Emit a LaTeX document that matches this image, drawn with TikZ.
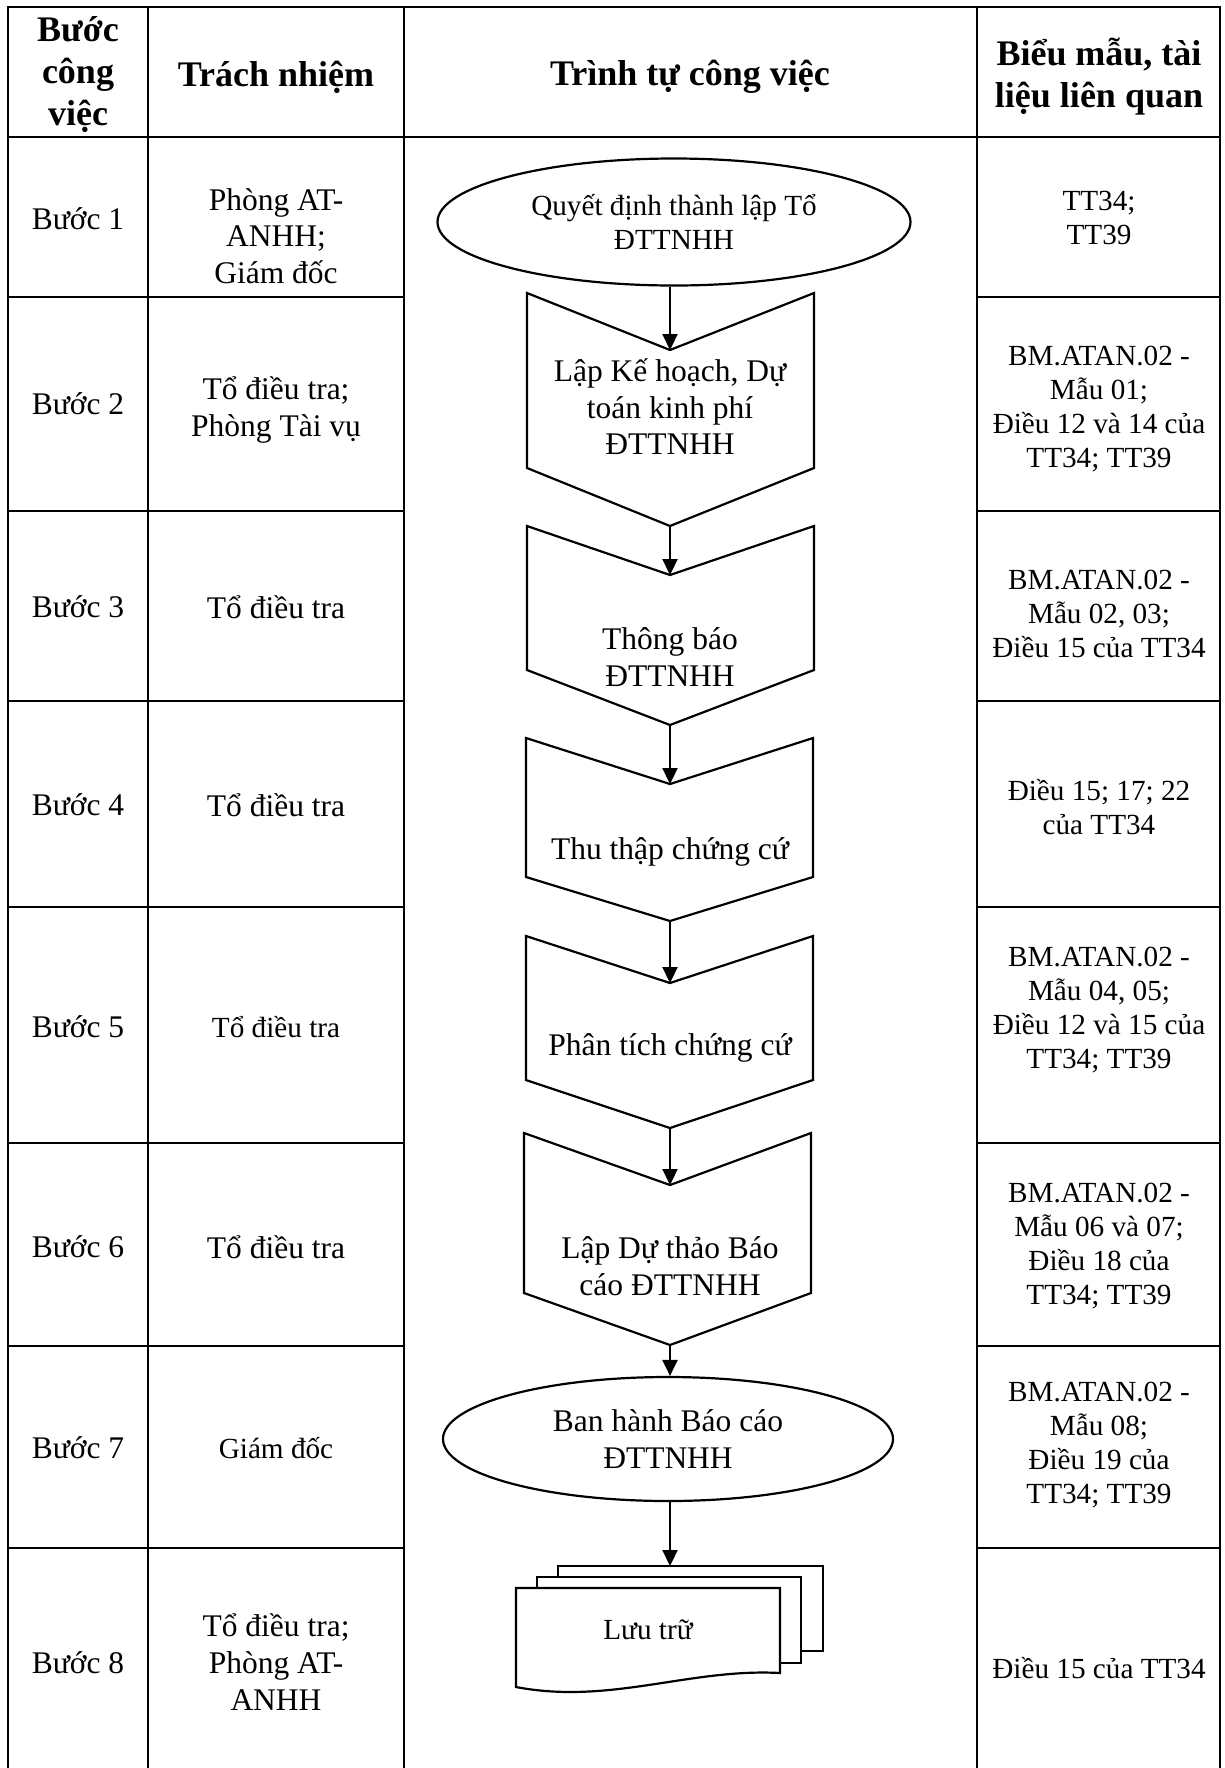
\documentclass[tikz,border=0pt]{standalone}
\usepackage{fontspec}
\setmainfont{Liberation Serif}
\usetikzlibrary{shapes.geometric, arrows.meta}
\newcommand\mychev[7]{% name, left, right, top, notch, corner, point
  \draw[shp] (#2,#4) -- (670,#5) -- (#3,#4) -- (#3,#6) -- (670,#7) -- (#2,#6) -- cycle;
  \coordinate (#1n) at (670,#5);
  \coordinate (#1p) at (670,#7);
}
\begin{document}
\begin{tikzpicture}[x=0.5pt, y=-0.5pt,
  grid/.style={line width=1.3pt, line cap=rect},
  shp/.style={draw, line width=1.1pt, fill=white},
  arr/.style={line width=1.1pt, -{Triangle[length=8pt, width=7.5pt]}},
  hd/.style={font=\bfseries\fontsize{18}{21}\selectfont, align=center, inner sep=0pt},
  tb/.style={font=\fontsize{15.75}{18.3}\selectfont, align=center, inner sep=0pt},
  ts/.style={font=\fontsize{14.6}{17}\selectfont, align=center, inner sep=0pt},
  oval/.style={ellipse, draw, line width=1.1pt, inner sep=0pt, fill=white},
]
\useasboundingbox (0,0) rectangle (1225,1768);

% table grid
\draw[grid] (8,7) -- (1220,7);
\draw[grid] (8,137) -- (1220,137);
\foreach \yy in {297,511,701,907,1143,1346,1548} {
  \draw[grid] (8,\yy) -- (404,\yy);
  \draw[grid] (977,\yy) -- (1220,\yy);
}
\foreach \xx in {8,148,404,977,1220} \draw[grid] (\xx,7) -- (\xx,1768);

% header
\node[hd] (h1) at (78,75) {Bước\\công\\việc};
\node[hd] (h2) at (276,77) {Trách nhiệm};
\node[hd] (h3) at (690,77) {Trình tự công việc};
\node[hd] (h4) at (1099,77) {Biểu mẫu, tài\\liệu liên quan};

% column 1
\node[tb] (b1) at (78,219) {Bước 1};
\node[tb] (b2) at (78,404) {Bước 2};
\node[tb] (b3) at (78,607) {Bước 3};
\node[tb] (b4) at (78,805) {Bước 4};
\node[tb] (b5) at (78,1027) {Bước 5};
\node[tb] (b6) at (78,1247) {Bước 6};
\node[tb] (b7) at (78,1448) {Bước 7};
\node[tb] (b8) at (78,1663) {Bước 8};

% column 2
\node[tb] (r1) at (276,236) {Phòng AT-\\ANHH;\\Giám đốc};
\node[tb] (r2) at (276,410) {Tổ điều tra;\\Phòng Tài vụ};
\node[tb] (r3) at (276,607) {Tổ điều tra};
\node[tb] (r4) at (276,805) {Tổ điều tra};
\node[ts] (r5) at (276,1027) {Tổ điều tra};
\node[tb] (r6) at (276,1247) {Tổ điều tra};
\node[ts] (r7) at (276,1448) {Giám đốc};
\node[tb] (r8) at (276,1662) {Tổ điều tra;\\Phòng AT-\\ANHH};

% column 4
\node[ts] (f1) at (1099,218) {TT34;\\TT39};
\node[ts] (f2) at (1099,409) {BM.ATAN.02 -\\Mẫu 01;\\Điều 12 và 14 của\\TT34; TT39};
\node[ts] (f3) at (1099,614) {BM.ATAN.02 -\\Mẫu 02, 03;\\Điều 15 của TT34};
\node[ts] (f4) at (1099,807) {Điều 15; 17; 22\\của TT34};
\node[ts] (f5) at (1099,1010) {BM.ATAN.02 -\\Mẫu 04, 05;\\Điều 12 và 15 của\\TT34; TT39};
\node[ts] (f6) at (1099,1246) {BM.ATAN.02 -\\Mẫu 06 và 07;\\Điều 18 của\\TT34; TT39};
\node[ts] (f7) at (1099,1445) {BM.ATAN.02 -\\Mẫu 08;\\Điều 19 của\\TT34; TT39};
\node[ts] (f8) at (1099,1668) {Điều 15 của TT34};

% flow chart
\node[oval, minimum width=236.5pt, minimum height=63.5pt, font=\fontsize{14.6}{17}\selectfont, align=center] (e1) at (674,222) {Quyết định thành lập Tổ\\ĐTTNHH};

\mychev{c2}{527}{814}{293}{350}{468}{526}
\mychev{c3}{527}{814}{526}{575}{670}{725}
\mychev{c4}{526}{813}{738}{784}{877}{921}
\mychev{c5}{526}{813}{936}{983}{1080}{1128}
\mychev{c6}{524}{811}{1133}{1185}{1293}{1345}

\node[tb] (s2) at (670,407) {Lập Kế hoạch, Dự\\toán kinh phí\\ĐTTNHH};
\node[tb] (s3) at (670,657) {Thông báo\\ĐTTNHH};
\node[tb] (s4) at (670,852) {Thu thập chứng cứ};
\node[tb] (s5) at (670,1048) {Phân tích chứng cứ};
\node[tb] (s6) at (670,1266) {Lập Dự thảo Báo\\cáo ĐTTNHH};

\node[oval, minimum width=225pt, minimum height=62pt, font=\fontsize{15.75}{18.3}\selectfont, align=center] (e2) at (668,1439) {Ban hành Báo cáo\\ĐTTNHH};

% multi-document
\draw[shp] (558,1566) rectangle (823,1651);
\draw[shp] (537,1577) rectangle (801,1663);
\draw[shp] (516,1588) -- (780,1588) -- (780,1673) .. controls (690,1668) and (610,1705) .. (516,1687) -- cycle;
\coordinate (dtop) at (670,1566);
\node[ts] (lt) at (648,1630) {Lưu trữ};

% connectors
\draw[arr] (e1.south -| c2n) -- (c2n);
\draw[arr] (c2p) -- (c3n);
\draw[arr] (c3p) -- (c4n);
\draw[arr] (c4p) -- (c5n);
\draw[arr] (c5p) -- (c6n);
\draw[arr] (c6p) -- (c6p |- e2.north);
\draw[arr] (e2.south -| dtop) -- (dtop);
\end{tikzpicture}
\end{document}
